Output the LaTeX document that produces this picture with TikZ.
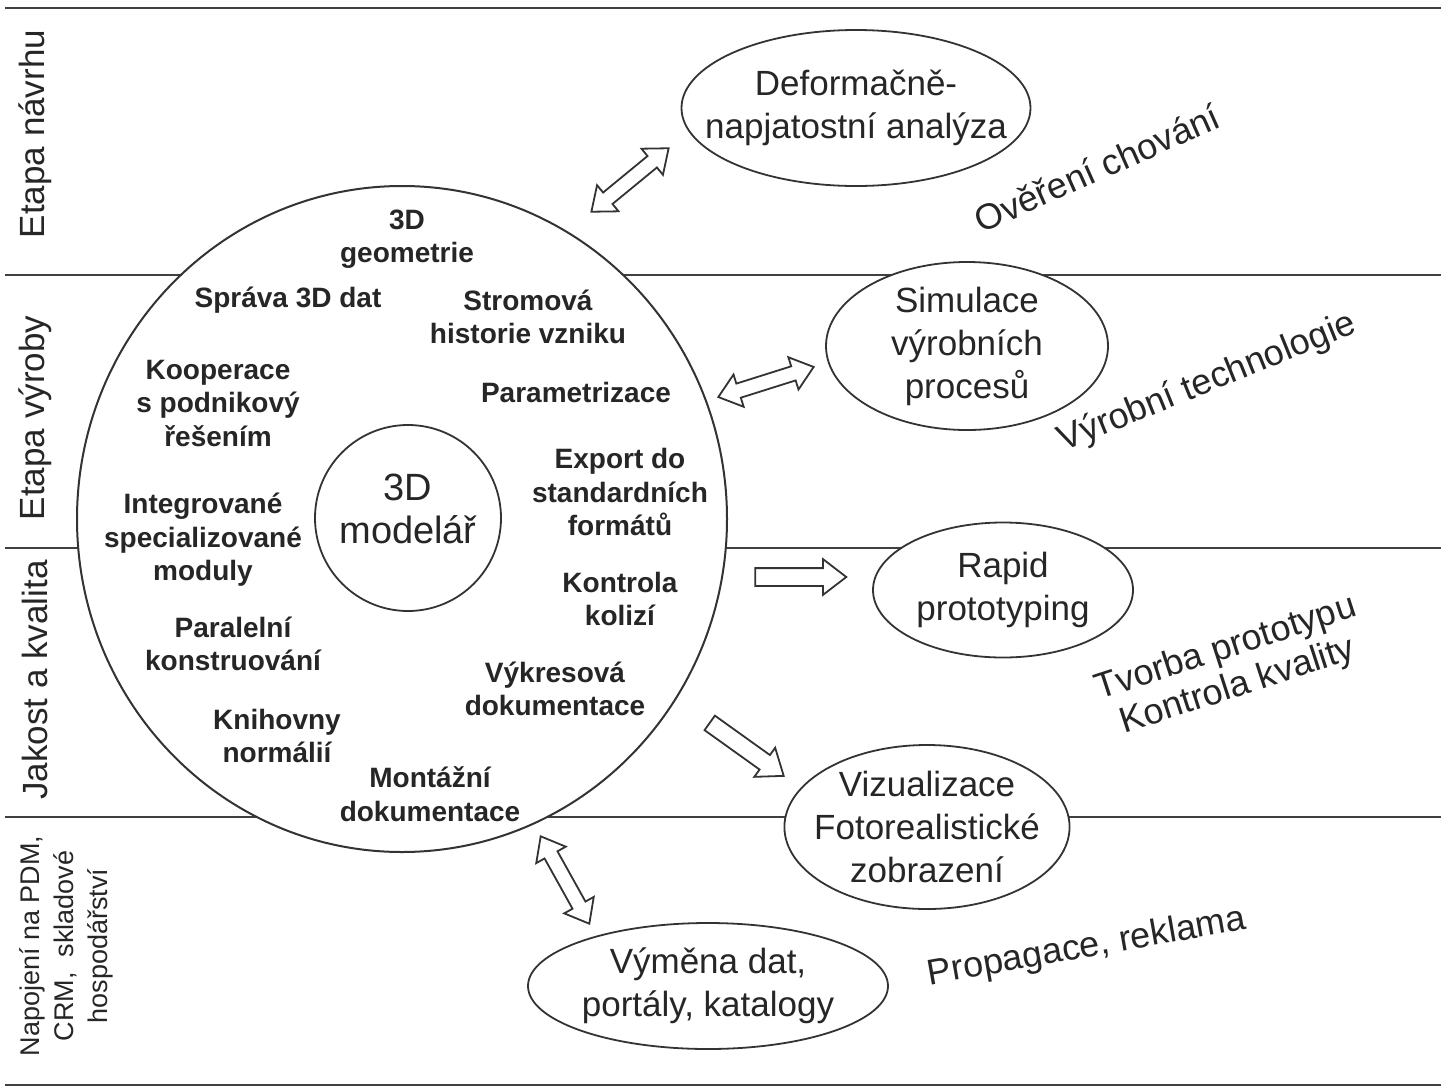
\documentclass[tikz,border=0pt]{standalone}
\usepackage{fontspec}
\setmainfont{Liberation Sans}
\usetikzlibrary{positioning, shapes.geometric, shapes.arrows}

\begin{document}
\begin{tikzpicture}[x=0.5pt, y=-0.5pt,
        every node/.style={text=black!85},
        band/.style={draw=black!75, line width=1.2pt},
        oval/.style={ellipse, draw=black!80, line width=0.9pt, fill=white, inner sep=0pt, align=center, font=\fontsize{17.5}{21.5}\selectfont},
        topic/.style={align=center, font=\bfseries\fontsize{14}{16.75}\selectfont},
        stage/.style={rotate=90, align=center, font=\fontsize{17.5}{21}\selectfont},
        note/.style={align=center, font=\fontsize{18}{20}\selectfont},
        onearrow/.style={single arrow, draw=black!80, line width=0.9pt, fill=white, inner sep=4pt, single arrow head extend=4.5pt, single arrow tip angle=75, minimum height=45.5pt},
        twoarrow/.style={double arrow, draw=black!80, line width=0.9pt, fill=white, inner sep=3.25pt, double arrow head extend=4.75pt, double arrow tip angle=77, minimum height=50pt}]
        \fill [white] (0,0) rectangle (1441,1088);
        \useasboundingbox (0,0) rectangle (1441,1088);
        \draw [band] (5,8) -- (1441,8);
        \draw [band] (5,275) -- (1441,275);
        \draw [band] (5,548) -- (1441,548);
        \draw [band] (5,817) -- (1441,817);
        \draw [band] (5,1085) -- (1441,1085);
        \node [stage] (design) at (35,134) {Etapa návrhu};
        \node [stage] (making) at (35,418) {Etapa výroby};
        \node [stage] (quality) at (35,680) {Jakost a kvalita};
        \node [stage, font=\fontsize{13.5}{17}\selectfont] (linking) at (66,946) {Napojení na PDM,\\CRM,\ \ skladové\\hospodářství};
        \node [ellipse, draw=black!80, line width=1pt, fill=white, minimum width=325pt, minimum height=333pt] (core) at (402,519) {};
        \node [circle, draw=black!80, line width=0.9pt, inner sep=0pt, minimum size=93pt] (modeler) at (408,518) {};
        \node [align=center, font=\fontsize{19}{21.5}\selectfont] (modtext) at (408,509) {3D\\modelář};
        \node [topic] (geom) at (407,239) {3D\\geometrie};
        \node [topic] (manage) at (288,300) {Správa 3D dat};
        \node [topic] (history) at (528,317) {Stromová\\historie vzniku};
        \node [topic] (coop) at (218,403) {Kooperace\\s podnikový\\řešením};
        \node [topic] (param) at (576,392) {Parametrizace};
        \node [topic] (export) at (620,492) {Export do\\standardních\\formátů};
        \node [topic] (modules) at (203,540) {Integrované\\specializované\\moduly};
        \node [topic] (collide) at (620,599) {Kontrola\\kolizí};
        \node [topic] (parallel) at (233,644) {Paralelní\\konstruování};
        \node [topic] (drawing) at (555,689) {Výkresová\\dokumentace};
        \node [topic] (library) at (277,736) {Knihovny\\normálií};
        \node [topic] (assembly) at (430,794) {Montážní\\dokumentace};
        \node [oval, inner xsep=-14pt, minimum width=174.5pt, minimum height=78pt] (defo) at (856,108) {Deformačně-\\napjatostní analýza};
        \node [oval, minimum width=141pt, minimum height=84pt] (simul) at (967,346) {Simulace\\výrobních\\procesů};
        \node [oval, minimum width=130pt, minimum height=67.5pt] (rapid) at (1003,590) {Rapid\\prototyping};
        \node [oval, inner xsep=-6pt, inner ysep=-2pt, minimum width=142.5pt, minimum height=82pt] (vizu) at (927,827) {Vizualizace\\Fotorealistické\\zobrazení};
        \node [oval, minimum width=180pt, minimum height=63pt] (exchange) at (708,986) {Výměna dat,\\portály, katalogy};
        \node [note, rotate=24] (verify) at (1097,168) {Ověření chování};
        \node [note, rotate=22] (tech) at (1207,383) {Výrobní technologie};
        \node [note, rotate=18] (proto) at (1232,668) {Tvorba prototypu\\Kontrola kvality};
        \node [note, rotate=10] (promo) at (1087,948) {Propagace, reklama};
        \node [twoarrow, rotate=39.4] (todefo) at (630,180) {};
        \node [twoarrow, rotate=17.5] (tosimul) at (766,382) {};
        \node [onearrow] (torapid) at (795,577) {};
        \node [onearrow, rotate=-35.6] (tovizu) at (742,746) {};
        \node [twoarrow, rotate=-60.9] (toexchange) at (565,880) {};
    \end{tikzpicture}
\end{document}
